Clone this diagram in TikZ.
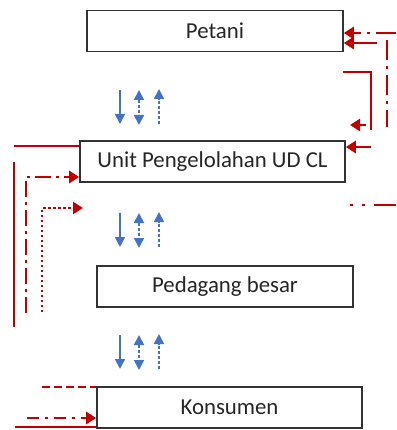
\documentclass[tikz,border=0pt]{standalone}
\usepackage{fontspec}
\setmainfont{Carlito}
\usetikzlibrary{arrows.meta}
\definecolor{dred}{HTML}{C00000}
\definecolor{oblue}{HTML}{4472C4}
\definecolor{txt}{HTML}{262626}
\tikzset{btip/.tip={Triangle[length=10pt,width=10pt]},
  rtip/.tip={Triangle[length=10pt,width=12pt]}}
\begin{document}
\begin{tikzpicture}[x=1pt,y=-1pt,
  box/.style={draw=black!80,line width=1.6pt,fill=white,inner sep=0pt,minimum height=41pt,text=txt,font=\fontsize{22.8}{26}\selectfont},
  rl/.style={draw=dred,line width=2.6pt},
  rarr/.style={rl,-{rtip}},
  rdd/.style={dash pattern=on 20pt off 6pt on 3pt off 6pt},
  bl/.style={draw=oblue,line width=1.8pt},
  bdash/.style={dash pattern=on 3pt off 2pt}]
\useasboundingbox (0,0) rectangle (396,430);
% boxes
\node[box,minimum width=256pt] (P) at (215,31) {Petani};
\node[box,minimum width=265pt] (U) at (212.5,161.5) {Unit Pengelolahan UD CL};
\node[box,minimum width=256pt] (B) at (225,286.5) {Pedagang besar};
\node[box,minimum width=265pt] (K) at (229.5,407.5) {Konsumen};
% right side red lines
\coordinate (r1) at (396,33);
\draw[rarr,rdd] (r1) -- (r1 -| P.east);
\coordinate (r2) at (377,43);
\draw[rarr] (r2) -- (r2 -| P.east);
\coordinate (r3a) at (387,40);
\coordinate (r3b) at (387,127);
\draw[rl,rdd] (r3a) -- (r3b);
\coordinate (r4a) at (343,72);
\coordinate (r4b) at (371,72);
\coordinate (r4c) at (371,130);
\draw[rl] (r4a) -- (r4b) -- (r4c);
\coordinate (r5a) at (366,125);
\coordinate (r5b) at (350,125);
\draw[rarr] (r5a) -- (r5b);
\coordinate (r6) at (371,147);
\draw[rarr] (r6) -- (r6 -| U.east);
\coordinate (r7a) at (350,205);
\coordinate (r7b) at (396,205);
\draw[rl,dash pattern=on 2.5pt off 9.5pt on 2.5pt off 9.5pt on 30pt off 0pt] (r7a) -- (r7b);
% left side red lines
\coordinate (l1) at (14,146);
\draw[rl] (l1) -- (l1 -| U.west);
\coordinate (l2a) at (14,162);
\coordinate (l2b) at (14,327);
\draw[rl] (l2a) -- (l2b);
\coordinate (l3a) at (26,313);
\coordinate (l3b) at (26,177);
\draw[rarr,dash pattern=on 16pt off 5pt on 3pt off 5pt] (l3a) -- (l3b) -- (l3b -| U.west);
\coordinate (l4a) at (42,312);
\coordinate (l4b) at (42,208);
\coordinate (l4c) at (83,208);
\draw[rarr,dash pattern=on 2.5pt off 2.5pt] (l4a) -- (l4b) -- (l4c);
% bottom left
\coordinate (k1) at (42,387);
\draw[rl,dash pattern=on 8pt off 4pt] (k1) -- (k1 -| K.west);
\coordinate (k2) at (27,418);
\draw[rarr,dash pattern=on 12pt off 6pt on 3pt off 6pt] (k2) -- (k2 -| K.west);
\coordinate (k3) at (15,427);
\draw[rl] (k3) -- (k3 -| K.west);
% blue arrows
\foreach \t/\b [count=\i] in {90/124, 213/247, 335/369}{
  \coordinate (a\i t) at (120,\t);
  \coordinate (a\i b) at (120,\b);
  \draw[bl,-{btip}] (a\i t) -- (a\i b);
  \coordinate (c\i t) at (139,\t);
  \coordinate (c\i b) at (139,\b+1);
  \draw[bl,bdash,{btip}-{btip}] (c\i t) -- (c\i b);
  \coordinate (d\i t) at (159,\t-1);
  \coordinate (d\i b) at (159,\b);
  \draw[bl,bdash,-{btip}] (d\i b) -- (d\i t);
}
\end{tikzpicture}
\end{document}
